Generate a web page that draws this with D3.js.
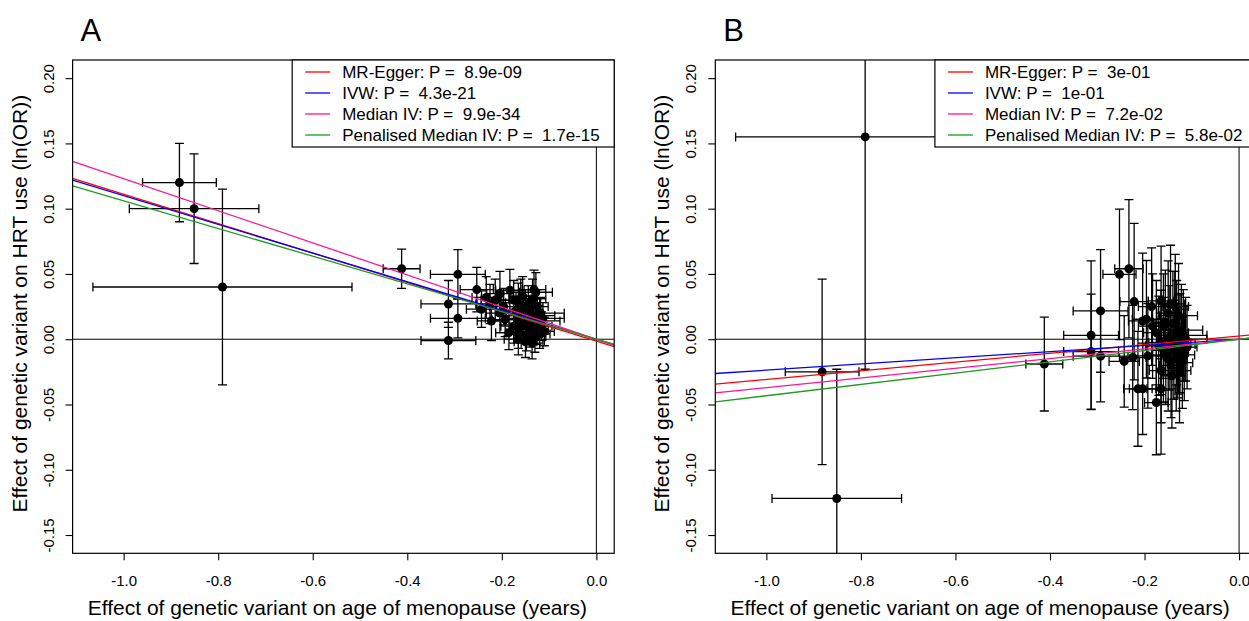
<!DOCTYPE html>
<html><head><meta charset="utf-8">
<script src="https://cdn.jsdelivr.net/npm/d3@7"></script>
<style>
body{margin:0;background:#fff}
svg{display:block}
text{font-family:"Liberation Sans",Arial,Helvetica,sans-serif;fill:#000;white-space:pre}
</style>
</head><body>
<svg id="chart" width="1249" height="621"></svg>
<script>
// ---- data ----
// genetic variant effects on age of menopause (years) and half-widths of their bars
const snpX   = [-0.882,-0.851,-0.791,-0.412,-0.313,-0.313,-0.293,-0.293,-0.253,-0.243,-0.233,-0.222,-0.225,-0.214,-0.204,-0.204,-0.196,-0.193,-0.183,-0.175,-0.175,-0.170,-0.165,-0.165,-0.165,-0.165,-0.160,-0.156,-0.155,-0.150,-0.148,-0.145,-0.144,-0.140,-0.138,-0.135,-0.133,-0.132,-0.130,-0.128,-0.126,-0.125,-0.122,-0.120,-0.118,-0.116,-0.113,-0.110,-0.150,-0.142,-0.128,-0.185,-0.160,-0.136];
const snpXse = [0.078,0.137,0.274,0.039,0.058,0.058,0.058,0.058,0.035,0.032,0.030,0.030,0.028,0.030,0.028,0.030,0.030,0.028,0.030,0.025,0.027,0.028,0.027,0.026,0.025,0.030,0.025,0.025,0.028,0.025,0.024,0.030,0.024,0.025,0.024,0.028,0.023,0.025,0.023,0.040,0.024,0.023,0.045,0.022,0.050,0.022,0.045,0.021,0.024,0.022,0.035,0.028,0.025,0.023];
// panel A: effect on HRT use (ln(OR))
const hrtA   = [0.120,0.100,0.040,0.054,0.027,-0.001,0.0497,0.016,0.038,0.023,0.032,0.014,0.027,0.030,0.035,0.020,0.025,0.015,0.0375,0.030,0.010,0.022,0.028,0.005,0.016,0.000,0.018,0.033,0.010,0.024,0.003,0.014,0.027,0.006,0.020,0.031,0.012,0.038,0.002,0.018,0.008,0.025,0.014,0.004,0.020,0.010,0.016,0.006,-0.002,0.008,0.036,0.005,0.031,-0.003];
const hrtAse = [0.030,0.042,0.075,0.015,0.018,0.014,0.019,0.015,0.017,0.014,0.016,0.015,0.015,0.016,0.017,0.015,0.014,0.013,0.016,0.015,0.013,0.014,0.015,0.012,0.013,0.012,0.014,0.015,0.013,0.014,0.012,0.013,0.014,0.012,0.013,0.015,0.012,0.015,0.012,0.013,0.012,0.013,0.012,0.011,0.012,0.011,0.012,0.011,0.012,0.011,0.015,0.013,0.015,0.012];
// panel B: effect on HRT use (ln(OR))
const hrtB   = [-0.025,-0.122,0.155,-0.019,0.003,-0.0095,0.0217,-0.013,0.0497,-0.017,0.054,0.0288,-0.014,-0.038,-0.038,0.014,0.0153,-0.0128,0.010,-0.0485,0.005,-0.005,0.0293,-0.0025,-0.024,-0.038,0.010,0.013,-0.012,-0.015,0.001,0.027,-0.020,0.012,-0.008,0.025,-0.015,0.005,-0.010,0.018,-0.024,-0.003,0.007,-0.018,0.003,-0.012,0.000,-0.006,0.020,-0.028,-0.004,0.025,-0.008,0.012];
const hrtBse = [0.071,0.099,0.178,0.036,0.057,0.044,0.047,0.035,0.050,0.035,0.053,0.060,0.040,0.044,0.035,0.052,0.045,0.040,0.040,0.040,0.040,0.038,0.042,0.040,0.040,0.050,0.040,0.040,0.038,0.040,0.040,0.045,0.040,0.040,0.038,0.040,0.040,0.040,0.035,0.040,0.040,0.038,0.035,0.035,0.035,0.035,0.032,0.032,0.040,0.040,0.038,0.045,0.040,0.040];

const methodNames  = ["MR-Egger","IVW","Median IV","Penalised Median IV"];
const methodColors = ["#ff0000","#0000ff","#ff1493","#1e9a1e"];
const pValuesA     = ["8.9e-09","4.3e-21","9.9e-34","1.7e-15"];
const pValuesB     = ["3e-01","1e-01","7.2e-02","5.8e-02"];
const slopesA      = [-0.1125,-0.110,-0.123,-0.106];
const interceptsA  = [-0.0015,0,0,0];
const slopesB      = [0.0333,0.0237,0.0371,0.0433];
const interceptsB  = [0.0025,0,0,0];

const xTicks = [-1.0,-0.8,-0.6,-0.4,-0.2,0.0];
const xTickLabels = ["-1.0","-0.8","-0.6","-0.4","-0.2","0.0"];
const yTicks = [0.20,0.15,0.10,0.05,0.00,-0.05,-0.10,-0.15];
const yTickLabels = ["0.20","0.15","0.10","0.05","0.00","-0.05","-0.10","-0.15"];

const xTitle = "Effect of genetic variant on age of menopause (years)";
const yTitle = "Effect of genetic variant on HRT use (ln(OR))";

// ---- layout ----
const svg = d3.select("#chart");
const plotTop = 60, plotBottom = 553.3, plotW = 541.6;
const xDomain = [-1.108, 0.0377], yDomain = [-0.164, 0.2139];

const panels = [
  {label:"A", left:72.6, y:hrtA, yse:hrtAse, slopes:slopesA, intercepts:interceptsA, pvals:pValuesA},
  {label:"B", left:715.3, y:hrtB, yse:hrtBse, slopes:slopesB, intercepts:interceptsB, pvals:pValuesB}
];

panels.forEach((p, pi) => {
  const x = d3.scaleLinear().domain(xDomain).range([p.left, p.left + plotW]);
  const y = d3.scaleLinear().domain(yDomain).range([plotBottom, plotTop]);
  const g = svg.append("g");
  const clipId = "clip" + pi;
  svg.append("defs").append("clipPath").attr("id", clipId)
    .append("rect").attr("x", p.left).attr("y", plotTop).attr("width", plotW).attr("height", plotBottom - plotTop);

  const inner = g.append("g").attr("clip-path", `url(#${clipId})`);

  // reference lines at 0
  inner.append("line").attr("x1", p.left).attr("x2", p.left + plotW).attr("y1", y(0)).attr("y2", y(0))
    .attr("stroke", "#000").attr("stroke-width", 1);
  inner.append("line").attr("x1", x(0)).attr("x2", x(0)).attr("y1", plotTop).attr("y2", plotBottom)
    .attr("stroke", "#000").attr("stroke-width", 1);

  // error bars
  const cap = 4.5;
  const eb = inner.append("g").attr("stroke", "#000").attr("stroke-width", 1.3).attr("fill", "none");
  snpX.forEach((xv, i) => {
    const yv = p.y[i];
    const x0 = x(xv - snpXse[i]), x1 = x(xv + snpXse[i]);
    const y0 = y(yv - p.yse[i]), y1 = y(yv + p.yse[i]);
    const cx = x(xv), cy = y(yv);
    eb.append("path").attr("d",
      `M${x0},${cy}H${x1}M${x0},${cy-cap}V${cy+cap}M${x1},${cy-cap}V${cy+cap}` +
      `M${cx},${y0}V${y1}M${cx-cap},${y0}H${cx+cap}M${cx-cap},${y1}H${cx+cap}`);
  });
  // points
  inner.append("g").selectAll("circle").data(snpX).join("circle")
    .attr("cx", d => x(d)).attr("cy", (d, i) => y(p.y[i])).attr("r", 4.5).attr("fill", "#000");

  // fitted lines
  methodNames.forEach((m, k) => {
    inner.append("line")
      .attr("x1", x(xDomain[0])).attr("y1", y(p.intercepts[k] + p.slopes[k] * xDomain[0]))
      .attr("x2", x(xDomain[1])).attr("y2", y(p.intercepts[k] + p.slopes[k] * xDomain[1]))
      .attr("stroke", methodColors[k]).attr("stroke-width", 1.3);
  });

  // box
  g.append("rect").attr("x", p.left).attr("y", plotTop).attr("width", plotW).attr("height", plotBottom - plotTop)
    .attr("fill", "none").attr("stroke", "#000").attr("stroke-width", 1.2);

  // x axis
  const xa = g.append("g").attr("transform", `translate(0,${plotBottom})`)
    .call(d3.axisBottom(x).tickValues(xTicks).tickSize(7).tickFormat((d, i) => xTickLabels[i]));
  xa.select(".domain").remove();
  xa.selectAll("line").attr("stroke", "#000").attr("stroke-width", 1.1);
  xa.selectAll("text").attr("font-size", 15).attr("y", 0).attr("dy", 0)
    .attr("transform", "translate(0,33)").style("font-family", "Liberation Sans, Arial, sans-serif");

  // y axis
  const ya = g.append("g").attr("transform", `translate(${p.left},0)`)
    .call(d3.axisLeft(y).tickValues(yTicks).tickSize(7).tickFormat((d, i) => yTickLabels[i]));
  ya.select(".domain").remove();
  ya.selectAll("line").attr("stroke", "#000").attr("stroke-width", 1.1);
  ya.selectAll(".tick text").attr("font-size", 15).attr("x", 0).attr("dy", 0)
    .attr("text-anchor", "middle").attr("transform", "translate(-19,0) rotate(-90)")
    .style("font-family", "Liberation Sans, Arial, sans-serif");

  // titles
  g.append("text").attr("x", p.left + plotW / 2 - 6).attr("y", 615).attr("text-anchor", "middle")
    .attr("font-size", 21).text(xTitle);
  g.append("text").attr("transform", `translate(${p.left - 46},${(plotTop + plotBottom) / 2 - 3}) rotate(-90)`)
    .attr("text-anchor", "middle").attr("font-size", 21).text(yTitle);
  g.append("text").attr("x", p.left + 8).attr("y", 41).attr("font-size", 31).text(p.label);

  // legend
  const lw = 322, lh = 87, lx = p.left + plotW - lw, ly = plotTop;
  const lg = g.append("g");
  lg.append("rect").attr("x", lx).attr("y", ly).attr("width", lw).attr("height", lh)
    .attr("fill", "#fff").attr("stroke", "#000").attr("stroke-width", 1.2);
  methodNames.forEach((m, k) => {
    const cy = ly + 12 + k * 21;
    lg.append("line").attr("x1", lx + 13).attr("x2", lx + 38).attr("y1", cy).attr("y2", cy)
      .attr("stroke", methodColors[k]).attr("stroke-width", 1.3);
    lg.append("text").attr("x", lx + 50).attr("y", cy + 6).attr("font-size", 17)
      .text(`${m}: P =  ${p.pvals[k]}`);
  });
});
</script>
</body></html>
